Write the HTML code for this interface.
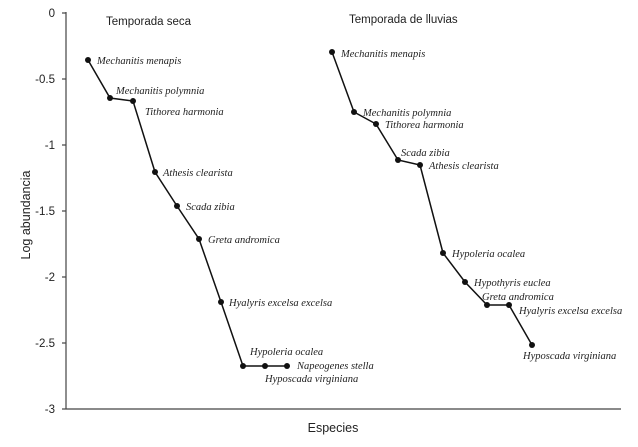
<!DOCTYPE html>
<html><head><style>body{margin:0;background:#fff}</style></head><body>
<svg width="638" height="442" xmlns="http://www.w3.org/2000/svg">
<rect width="638" height="442" fill="#fff"/>
<g stroke="#444" stroke-width="1.2" fill="none">
<line x1="66" y1="12" x2="66" y2="409"/>
<line x1="66" y1="409" x2="621" y2="409"/>
<line x1="62" y1="13" x2="66" y2="13"/><line x1="62" y1="79" x2="66" y2="79"/><line x1="62" y1="145" x2="66" y2="145"/><line x1="62" y1="211" x2="66" y2="211"/><line x1="62" y1="277" x2="66" y2="277"/><line x1="62" y1="343" x2="66" y2="343"/><line x1="62" y1="409" x2="66" y2="409"/>
</g>
<g font-family="Liberation Sans, sans-serif" font-size="11.5" fill="#222" text-anchor="end">
<text x="55" y="17">0</text><text x="55" y="83">-0.5</text><text x="55" y="149">-1</text><text x="55" y="215">-1.5</text><text x="55" y="281">-2</text><text x="55" y="347">-2.5</text><text x="55" y="413">-3</text>
</g>
<g font-family="Liberation Sans, sans-serif" fill="#222">
<text x="106" y="25" font-size="11.5">Temporada seca</text>
<text x="349" y="23" font-size="11.5">Temporada de lluvias</text>
<text x="333" y="432" font-size="12.5" text-anchor="middle">Especies</text>
<text transform="translate(30,215) rotate(-90)" font-size="12.5" text-anchor="middle">Log abundancia</text>
</g>
<polyline fill="none" stroke="#111" stroke-width="1.5" points="88,60 110,98 133,101 155,172 177,206 199,239 221,302 243,366 265,366 287,366"/>
<polyline fill="none" stroke="#111" stroke-width="1.5" points="332,52 354,112 376,124 398,160 420,165 443,253 465,282 487,305 509,305 532,345"/>
<g fill="#111">
<circle cx="88" cy="60" r="3"/><circle cx="110" cy="98" r="3"/><circle cx="133" cy="101" r="3"/><circle cx="155" cy="172" r="3"/><circle cx="177" cy="206" r="3"/><circle cx="199" cy="239" r="3"/><circle cx="221" cy="302" r="3"/><circle cx="243" cy="366" r="3"/><circle cx="265" cy="366" r="3"/><circle cx="287" cy="366" r="3"/>
<circle cx="332" cy="52" r="3"/><circle cx="354" cy="112" r="3"/><circle cx="376" cy="124" r="3"/><circle cx="398" cy="160" r="3"/><circle cx="420" cy="165" r="3"/><circle cx="443" cy="253" r="3"/><circle cx="465" cy="282" r="3"/><circle cx="487" cy="305" r="3"/><circle cx="509" cy="305" r="3"/><circle cx="532" cy="345" r="3"/>
</g>
<g font-family="Liberation Serif, serif" font-style="italic" font-size="10.5" fill="#222">
<text x="97" y="64">Mechanitis menapis</text>
<text x="116" y="94">Mechanitis polymnia</text>
<text x="145" y="115">Tithorea harmonia</text>
<text x="163" y="176">Athesis clearista</text>
<text x="186" y="210">Scada zibia</text>
<text x="208" y="243">Greta andromica</text>
<text x="229" y="306">Hyalyris excelsa excelsa</text>
<text x="250" y="355">Hypoleria ocalea</text>
<text x="297" y="369">Napeogenes stella</text>
<text x="265" y="382">Hyposcada virginiana</text>
<text x="341" y="57">Mechanitis menapis</text>
<text x="363" y="116">Mechanitis polymnia</text>
<text x="385" y="128">Tithorea harmonia</text>
<text x="401" y="156">Scada zibia</text>
<text x="429" y="169">Athesis clearista</text>
<text x="452" y="257">Hypoleria ocalea</text>
<text x="474" y="286">Hypothyris euclea</text>
<text x="482" y="300">Greta andromica</text>
<text x="519" y="314">Hyalyris excelsa excelsa</text>
<text x="523" y="359">Hyposcada virginiana</text>
</g>
</svg>
</body></html>
